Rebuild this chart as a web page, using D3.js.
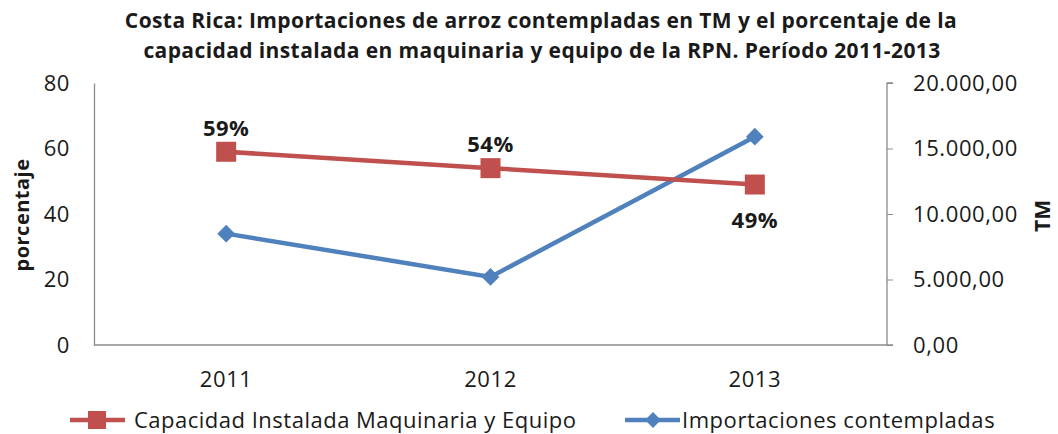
<!DOCTYPE html>
<html>
<head>
<meta charset="utf-8">
<script src="https://cdn.jsdelivr.net/npm/d3@7"></script>
<style>
  body { margin: 0; background: #fff; }
  text { font-family: "Open Sans", sans-serif; fill: #1a1a1a; }
</style>
</head>
<body>
<script>
//chart data
var years = ["2011", "2012", "2013"];
var capacidad = [59, 54, 49];            //porcentaje
var importaciones = [8500, 5200, 15900];  //TM
var leftTicks = [0, 20, 40, 60, 80];
var rightTicks = [0, 5000, 10000, 15000, 20000];

window.onload = drawChart();

function drawChart(){
    var width = 1058, height = 434;
    var left = 94, right = 887, top = 83, bottom = 345;

    var svg = d3.select("body").append("svg")
        .attr("width", width)
        .attr("height", height);

    var x = d3.scaleBand().domain(years).range([left, right]);
    var yL = d3.scaleLinear().domain([0, 80]).range([bottom, top]);
    var yR = d3.scaleLinear().domain([0, 20000]).range([bottom, top]);

    //spanish number format 20.000,00
    var fmt = function(d){
        return d3.format(",.2f")(d).replace(/,/g, "#").replace(".", ",").replace(/#/g, ".");
    };

    //title
    var title = svg.append("text")
        .attr("text-anchor", "middle")
        .style("font-weight", "bold")
        .style("font-size", "21px")
        .style("letter-spacing", "0.4px");
    title.append("tspan").attr("x", 541).attr("y", 28)
        .text("Costa Rica: Importaciones de arroz contempladas en TM y el porcentaje de la");
    title.append("tspan").attr("x", 542).attr("y", 58)
        .text("capacidad instalada en maquinaria y equipo de la RPN. Período 2011-2013");

    //axes
    var axisL = svg.append("g")
        .attr("transform", "translate(" + left + ",0)")
        .call(d3.axisLeft(yL).tickValues(leftTicks).tickSize(0).tickPadding(24));
    var axisR = svg.append("g")
        .attr("transform", "translate(" + right + ",0)")
        .call(d3.axisRight(yR).tickValues(rightTicks).tickSize(6).tickPadding(20).tickFormat(fmt));
    var axisB = svg.append("g")
        .attr("transform", "translate(0," + bottom + ")")
        .call(d3.axisBottom(x).tickSize(0).tickPadding(26));

    [axisL, axisR, axisB].forEach(function(a){
        a.select(".domain").attr("stroke", "#8c8c8c").attr("stroke-width", 1.3);
        a.selectAll(".tick line").attr("stroke", "#8c8c8c");
        a.selectAll(".tick text")
            .style("font-size", "22px")
            .style("letter-spacing", "0.6px")
            .style("font-family", "'Open Sans', sans-serif")
            .attr("fill", "#1a1a1a");
    });
    axisB.select(".domain").attr("d", "M" + left + ",0H" + right);
    axisR.select(".domain").attr("d", "M6," + top + "H0V" + bottom + "H6");

    //axis titles
    svg.append("text")
        .attr("transform", "translate(29,215) rotate(-90)")
        .attr("text-anchor", "middle")
        .style("font-weight", "bold").style("font-size", "20px").style("letter-spacing", "0.5px")
        .text("porcentaje");
    svg.append("text")
        .attr("transform", "translate(1050,216) rotate(-90)")
        .attr("text-anchor", "middle")
        .style("font-weight", "bold").style("font-size", "21px")
        .text("TM");

    var cx = function(i){ return x(years[i]) + x.bandwidth() / 2; };

    var blue = "#4F81BD", red = "#C0504D";

    //blue series
    svg.append("path")
        .datum(importaciones)
        .attr("fill", "none").attr("stroke", blue).attr("stroke-width", 4.5)
        .attr("d", d3.line().x(function(d, i){ return cx(i); }).y(function(d){ return yR(d); }));
    svg.selectAll(".diamond")
        .data(importaciones).enter()
        .append("path")
        .attr("class", "diamond")
        .attr("d", d3.symbol().type(d3.symbolDiamond2).size(200))
        .attr("fill", blue)
        .attr("transform", function(d, i){ return "translate(" + cx(i) + "," + yR(d) + ")"; });

    //red series
    svg.append("path")
        .datum(capacidad)
        .attr("fill", "none").attr("stroke", red).attr("stroke-width", 4.5)
        .attr("d", d3.line().x(function(d, i){ return cx(i); }).y(function(d){ return yL(d); }));
    svg.selectAll(".square")
        .data(capacidad).enter()
        .append("rect")
        .attr("class", "square")
        .attr("x", function(d, i){ return cx(i) - 10; })
        .attr("y", function(d){ return yL(d) - 10; })
        .attr("width", 20).attr("height", 20)
        .attr("fill", red);

    //data labels
    svg.selectAll(".lbl")
        .data(capacidad).enter()
        .append("text")
        .attr("class", "lbl")
        .attr("text-anchor", "middle")
        .style("font-weight", "bold").style("font-size", "22px").style("letter-spacing", "0.5px")
        .attr("x", function(d, i){ return cx(i); })
        .attr("y", function(d, i){ return i == 2 ? yL(d) + 43 : yL(d) - 16; })
        .text(function(d){ return d + "%"; });

    //legend
    var lg = svg.append("g").attr("transform", "translate(0,420)");
    lg.append("line").attr("x1", 70).attr("x2", 125).attr("stroke", red).attr("stroke-width", 4.5);
    lg.append("rect").attr("x", 88).attr("y", -9).attr("width", 18).attr("height", 18).attr("fill", red);
    lg.append("text").attr("x", 134).attr("y", 8).style("font-size", "22px").style("letter-spacing", "0.5px")
        .text("Capacidad Instalada Maquinaria y Equipo");
    lg.append("line").attr("x1", 625).attr("x2", 680).attr("stroke", blue).attr("stroke-width", 4.5);
    lg.append("path").attr("d", d3.symbol().type(d3.symbolDiamond2).size(160))
        .attr("transform", "translate(653,0)").attr("fill", blue);
    lg.append("text").attr("x", 682).attr("y", 8).style("font-size", "22px").style("letter-spacing", "0.55px")
        .text("Importaciones contempladas");
}
</script>
</body>
</html>
